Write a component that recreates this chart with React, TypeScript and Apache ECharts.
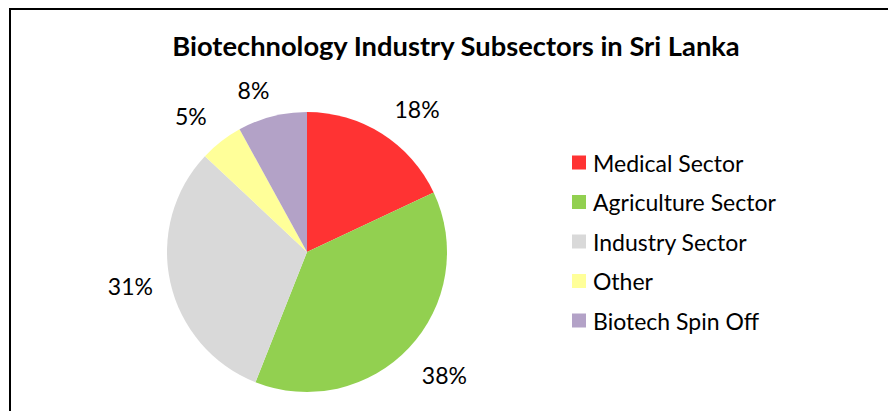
import React, { useEffect, useRef } from "react";
import * as echarts from "echarts";

const title = "Biotechnology Industry Subsectors in Sri Lanka";
const categories = ["Medical Sector", "Agriculture Sector", "Industry Sector", "Other", "Biotech Spin Off"];
const values = [18, 38, 31, 5, 8];
const colors = ["#FF3333", "#92D050", "#D9D9D9", "#FFFF99", "#B3A2C7"];
const labelOffsets = [[12, 12], [4, -2], [2, -6], [-4, 9], [-8, 15]];

export default function App() {
  const ref = useRef<HTMLDivElement>(null);
  useEffect(() => {
    if (!ref.current) return;
    const chart = echarts.init(ref.current, undefined, { renderer: "svg" });
    const data = categories.map((name, i) => ({ name, value: values[i], itemStyle: { color: colors[i] } }));
    chart.setOption({
      animation: false,
      textStyle: { fontFamily: "Lato" },
      title: {
        text: title,
        left: 451,
        top: 27,
        textAlign: "center",
        textStyle: { fontFamily: "Lato", fontWeight: "bold", fontSize: 27.3, color: "#000" },
      },
      legend: {
        orient: "vertical",
        left: 567,
        top: 146,
        icon: "rect",
        itemWidth: 14,
        itemHeight: 14,
        itemGap: 16.5,
        data: categories,
        textStyle: { fontFamily: "Lato", fontSize: 23, color: "#000", padding: [0, 0, 0, 2] },
      },
      graphic: [
        {
          type: "rect",
          shape: { x: 10, y: 9, width: 2000, height: 2000 },
          style: { fill: "none", stroke: "#000", lineWidth: 2 },
          silent: true,
        },
      ],
      series: [
        {
          type: "pie",
          center: [307, 252],
          radius: [0, 140],
          startAngle: 90,
          clockwise: true,
          label: { show: false },
          labelLine: { show: false },
          itemStyle: { borderWidth: 0 },
          emphasis: { disabled: true },
          data,
        },
        {
          type: "pie",
          center: [307, 252],
          radius: [170, 190],
          startAngle: 90,
          clockwise: true,
          silent: true,
          itemStyle: { color: "rgba(0,0,0,0)", borderWidth: 0 },
          label: {
            show: true,
            position: "inside",
            formatter: "{c}%",
            fontFamily: "Lato",
            fontSize: 23,
            color: "#000",
          },
          labelLine: { show: false },
          emphasis: { disabled: true },
          data: categories.map((name, i) => ({
            name,
            value: values[i],
            label: { offset: labelOffsets[i] },
          })),
        },
      ],
    });
    return () => chart.dispose();
  }, []);
  return <div ref={ref} style={{ position: "absolute", left: 0, top: 0, width: 888, height: 411 }} />;
}
